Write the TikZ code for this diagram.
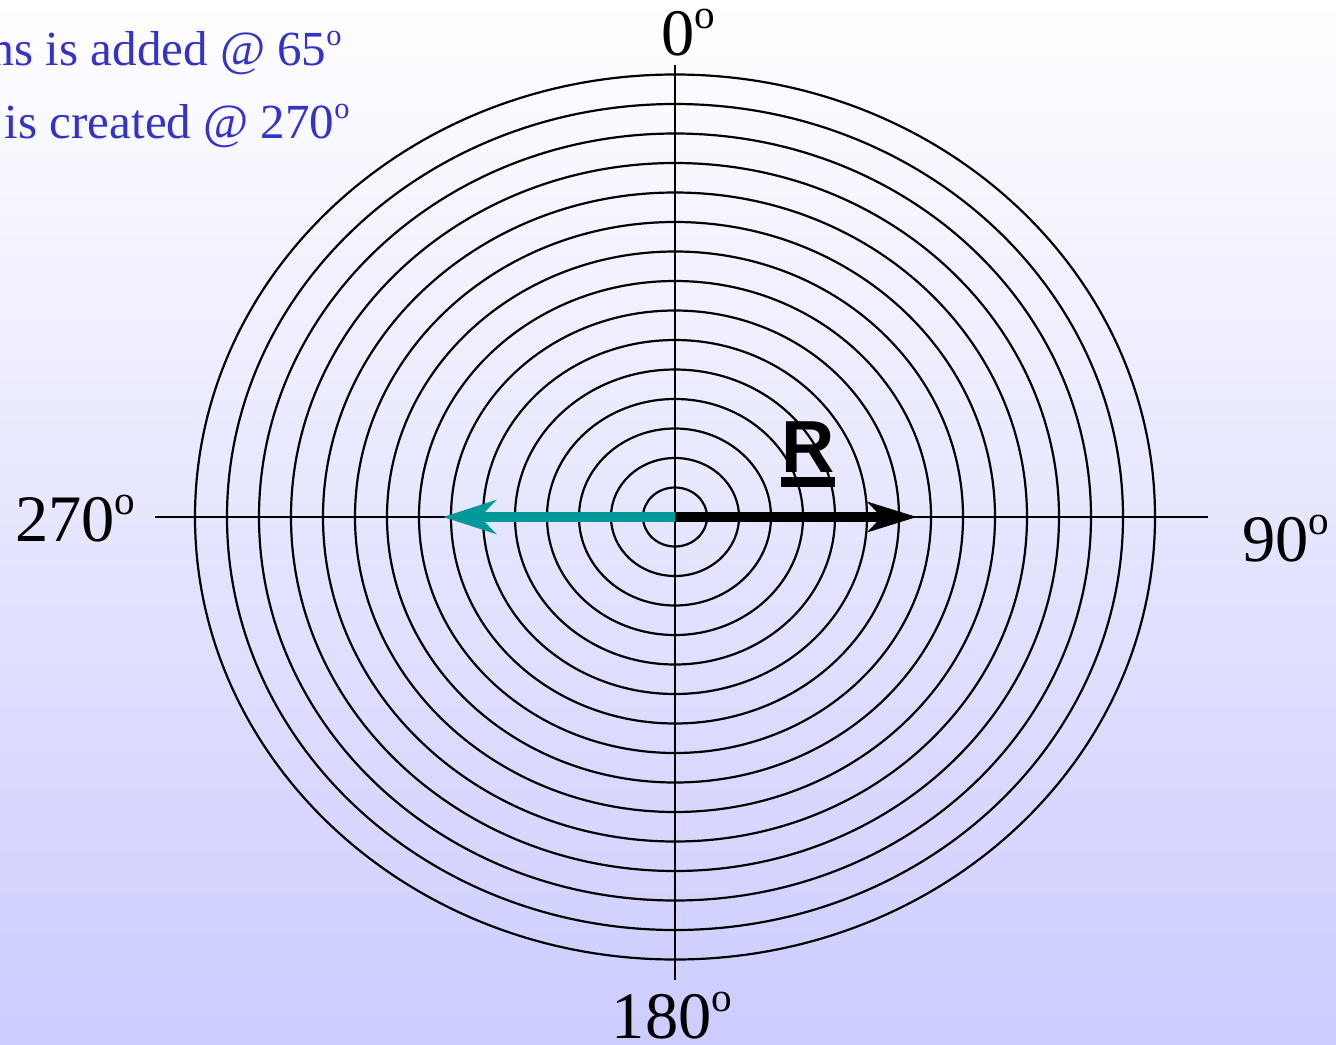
\documentclass[tikz,border=0pt]{standalone}
\usepackage{fontspec}
\setmainfont{Liberation Serif}
\newfontfamily\vecfont{Liberation Sans}
\usepackage{xcolor}
\usepackage{tikz}
\usetikzlibrary{arrows.meta,calc}
\definecolor{notecol}{RGB}{51,51,204}
\definecolor{tealarrow}{RGB}{0,153,153}
\newcommand{\degsym}{\raisebox{0.4em}{\scalebox{0.62}{o}}}

\begin{document}
\begin{tikzpicture}[x=0.02cm, y=-0.02cm,
      ring/.style={draw, line width=1.25pt},
      axis/.style={draw, line width=1.25pt},
      angle/.style={inner sep=0pt, font=\fontsize{37.8}{40}\selectfont},
      note/.style={inner sep=0pt, text=notecol, font=\fontsize{27.9}{30}\selectfont},
      vecline/.style={draw, line width=5.7pt, -{Stealth[length=28pt, width=17pt, inset=8pt]}}]

      % Background
      \shade[top color=white, bottom color=blue!20] (0,0) rectangle (1336,1045);
      \useasboundingbox (0,0) rectangle (1336,1045);

      % Coordinates
      \coordinate (c) at (675,517);
      \coordinate (top) at (675,65);
      \coordinate (bottom) at (675,980);
      \coordinate (left) at (155,517);
      \coordinate (right) at (1208,517);
      \coordinate (rtip) at (917,517);
      \coordinate (ltip) at (443,517);

      % Rings
      \foreach \k in {1,...,15}
        \path [ring] (c) ellipse [x radius=32*\k, y radius=29.5*\k];

      % Axes
      \path [axis] (top) -- (bottom);
      \path [axis] (left) -- (right);

      % Vectors
      \path [vecline, draw=tealarrow, -{Stealth[length=30pt, width=19pt, inset=9pt]}] (c) -- (ltip);
      \path [vecline, draw=black] (c) -- (rtip);

      % Labels
      \node [angle, anchor=base] (a0) at (688,55) {0\degsym};
      \node [angle, anchor=base] (a180) at (672,1038) {180\degsym};
      \node [angle, anchor=base west] (a90) at (1242,561) {90\degsym};
      \node [angle, anchor=base west] (a270) at (15,541) {270\degsym};
      \node [inner sep=0pt, anchor=base, font=\fontsize{42}{44}\selectfont\vecfont\bfseries] (rlab) at (808,472)
        {\vtop{\hbox{R}\kern3pt\hrule height 5.7pt}};

      % Notes
      \node [note, anchor=base east] (note1) at (342,65) {ms is added @ 65\degsym};
      \node [note, anchor=base east] (note2) at (350,138) {is created @ 270\degsym};

\end{tikzpicture}
\end{document}
